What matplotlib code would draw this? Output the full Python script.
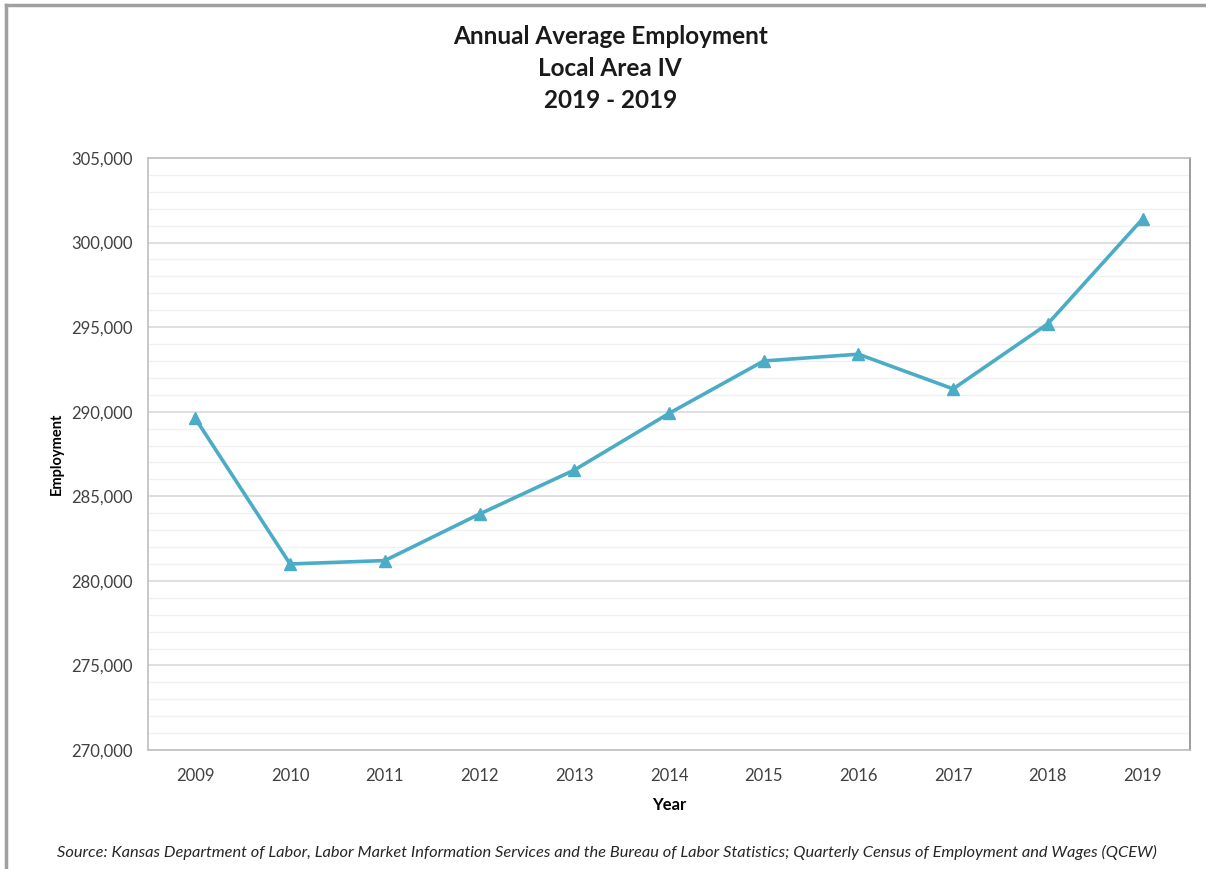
import matplotlib.pyplot as plt
from matplotlib.lines import Line2D
from matplotlib.ticker import FuncFormatter, MultipleLocator

years = ["2009", "2010", "2011", "2012", "2013", "2014",
         "2015", "2016", "2017", "2018", "2019"]
employment = [289600, 281000, 281200, 283950, 286550, 289900,
              293000, 293400, 291350, 295200, 301400]

plt.rcParams['font.family'] = ['Lato', 'DejaVu Sans']

fig = plt.figure(figsize=(12.06, 8.69), dpi=100)
ax = fig.add_axes([0.1227, 0.1369, 0.864, 0.6813])

x = range(len(years))
ax.plot(x, employment, color='#4bacc6', lw=2.6, marker='^', ms=9,
        zorder=3)

ax.set_xlim(-0.5, len(years) - 0.5)
ax.set_ylim(270000, 305000)
ax.set_xticks(list(x))
ax.set_xticklabels(years)
ax.yaxis.set_major_locator(MultipleLocator(5000))
ax.yaxis.set_minor_locator(MultipleLocator(1000))
ax.yaxis.set_major_formatter(FuncFormatter(lambda v, p: f"{int(v):,}"))

ax.grid(axis='y', which='major', color='#d9d9d9', lw=1.2)
ax.grid(axis='y', which='minor', color='#f0f0f0', lw=1.0)
ax.set_axisbelow(True)
ax.tick_params(axis='both', which='both', length=0, labelsize=12,
               colors='#404040')
ax.tick_params(axis='x', pad=13)
ax.tick_params(axis='y', pad=11)
for s in ax.spines.values():
    s.set_color('#bfbfbf')
    s.set_linewidth(1.2)
ax.spines['right'].set_color('#8c8c8c')

ax.set_xlabel("Year", fontsize=12, fontweight='bold', labelpad=9)
ax.set_ylabel("Employment", fontsize=10.5, fontweight='bold', labelpad=5)

title_lines = ["Annual Average Employment", "Local Area IV", "2019 - 2019"]
for i, line in enumerate(title_lines):
    fig.text(0.506, 0.958 - i * 0.0368, line, ha='center', va='center',
             fontsize=17.5, fontweight='bold', color='#1a1a1a')

fig.text(0.503, 0.019, "Source: Kansas Department of Labor, Labor Market Information Services "
         "and the Bureau of Labor Statistics; Quarterly Census of Employment and Wages (QCEW)",
         ha='center', va='center', fontsize=11.8, style='italic', color='#262626')

# outer frame along the top and left edges
fig.add_artist(Line2D([0.005, 1.0], [0.994, 0.994], color='#a0a0a0', lw=2.5))
fig.add_artist(Line2D([0.005, 0.005], [0.0, 0.994], color='#a0a0a0', lw=2.5))

fig.savefig("out.png", dpi=100)
